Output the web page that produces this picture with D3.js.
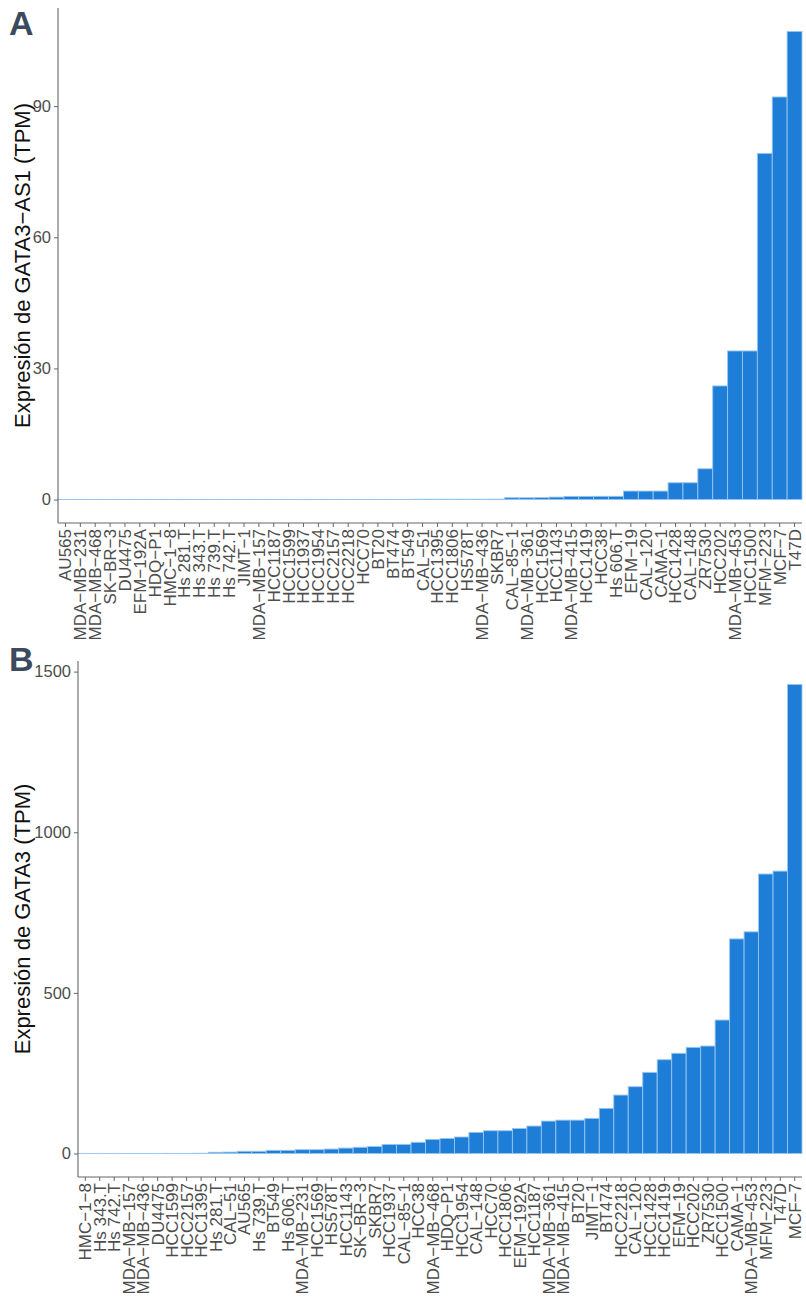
<!DOCTYPE html>
<html>
<head>
<meta charset="utf-8">
<script src="https://cdn.jsdelivr.net/npm/d3@7"></script>
<style>
  html, body { margin: 0; padding: 0; background: #fff; }
  svg { display: block; font-family: "Liberation Sans", Arial, sans-serif; }
</style>
</head>
<body>
<svg id="chart" width="806" height="1299"></svg>
<script>
// ---- Data ----
const catsA = ["AU565","MDA-MB-231","MDA-MB-468","SK-BR-3","DU4475","EFM-192A","HDQ-P1","HMC-1-8","Hs 281.T","Hs 343.T","Hs 739.T","Hs 742.T","JIMT-1","MDA-MB-157","HCC1187","HCC1599","HCC1937","HCC1954","HCC2157","HCC2218","HCC70","BT20","BT474","BT549","CAL-51","HCC1395","HCC1806","HS578T","MDA-MB-436","SKBR7","CAL-85-1","MDA-MB-361","HCC1569","HCC1143","MDA-MB-415","HCC1419","HCC38","Hs 606.T","EFM-19","CAL-120","CAMA-1","HCC1428","CAL-148","ZR7530","HCC202","MDA-MB-453","HCC1500","MFM-223","MCF-7","T47D"];
const valsA = [0.05,0.05,0.05,0.05,0.05,0.05,0.05,0.05,0.05,0.05,0.05,0.05,0.05,0.05,0.05,0.05,0.05,0.05,0.05,0.05,0.05,0.05,0.05,0.05,0.08,0.08,0.08,0.08,0.08,0.1,0.42,0.42,0.45,0.57,0.73,0.73,0.75,0.75,1.95,1.95,1.95,3.85,3.85,7.05,26.0,34.0,34.0,79.2,92.1,107.1];
const ticksA = [0, 30, 60, 90];

const catsB = ["HMC-1-8","Hs 343.T","Hs 742.T","MDA-MB-157","MDA-MB-436","DU4475","HCC1599","HCC2157","HCC1395","Hs 281.T","CAL-51","AU565","Hs 739.T","BT549","Hs 606.T","MDA-MB-231","HCC1569","HS578T","HCC1143","SK-BR-3","SKBR7","HCC1937","CAL-85-1","HCC38","MDA-MB-468","HDQ-P1","HCC1954","CAL-148","HCC70","HCC1806","EFM-192A","HCC1187","MDA-MB-361","MDA-MB-415","BT20","JIMT-1","BT474","HCC2218","CAL-120","HCC1428","HCC1419","EFM-19","HCC202","ZR7530","HCC1500","CAMA-1","MDA-MB-453","MFM-223","T47D","MCF-7"];
const valsB = [0.1,0.1,0.1,0.2,0.3,0.4,0.5,0.6,1.0,4,4.5,7,7,10,10,12,12,14,17,19.5,22,28.5,28.5,35,44,47,51.5,66,71,71,78,85.6,101,104,104,109.5,140.6,182,208,252.6,292,312,330.5,334.6,415.5,668,690,870,879,1460];
const ticksB = [0, 500, 1000, 1500];

const titleA = "Expresión de GATA3-AS1 (TPM)";
const titleB = "Expresión de GATA3 (TPM)";

// ---- Drawing ----
const svg = d3.select("#chart");
svg.append("rect").attr("width", 806).attr("height", 1299).attr("fill", "#fff");

const disp = s => s.replace(/-/g, "\u2212");
const FONT = "'Liberation Sans', Arial, sans-serif";

function panel(cfg) {
  const { cats, vals, ticks, x0, x1, yTop, yBot, title, letter, letterY } = cfg;
  const g = svg.append("g");
  const maxV = d3.max(vals);
  const y = d3.scaleLinear().domain([-0.05 * maxV, 1.05 * maxV]).range([yBot, yTop]);
  const x = d3.scaleBand().domain(cats).range([x0, x1]).padding(0);

  // bars
  g.selectAll("rect.bar").data(cats).join("rect")
    .attr("class", "bar")
    .attr("x", d => x(d))
    .attr("width", x.bandwidth())
    .attr("y", (d, i) => y(vals[i]))
    .attr("height", (d, i) => y(0) - y(vals[i]))
    .attr("fill", "#1e7dd7")
    .attr("stroke", "#98c6f0")
    .attr("stroke-width", 0.9);

  // y axis
  const ya = d3.axisLeft(y).tickValues(ticks).tickSize(4).tickPadding(3).tickFormat(d3.format("d"));
  const yg = g.append("g").attr("transform", `translate(${x0},0)`).call(ya);
  yg.select(".domain").remove();
  yg.selectAll(".tick line").attr("stroke", "#666").attr("stroke-width", 1);
  yg.selectAll(".tick text").attr("fill", "#4d4d4d").style("font-size", "16.5px")
    .style("font-family", FONT);

  // x axis
  const xa = d3.axisBottom(x).tickSize(4).tickPadding(3).tickFormat(disp);
  const xg = g.append("g").attr("transform", `translate(0,${yBot})`).call(xa);
  xg.select(".domain").remove();
  xg.selectAll(".tick line").attr("stroke", "#666").attr("stroke-width", 1);
  xg.selectAll(".tick text")
    .attr("fill", "#4d4d4d")
    .style("font-size", "17px")
    .style("font-family", FONT)
    .attr("text-anchor", "end")
    .attr("transform", "rotate(-90)")
    .attr("x", -6)
    .attr("y", 0)
    .attr("dy", "0.35em");

  // axis lines
  g.append("line").attr("x1", x0).attr("x2", x0).attr("y1", yTop).attr("y2", yBot)
    .attr("stroke", "#666").attr("stroke-width", 1.1);
  g.append("line").attr("x1", x0).attr("x2", x1).attr("y1", yBot).attr("y2", yBot)
    .attr("stroke", "#666").attr("stroke-width", 1.1);

  // axis title
  g.append("text")
    .attr("transform", `translate(${cfg.titleX},${(yTop + yBot) / 2}) rotate(-90)`)
    .attr("text-anchor", "middle")
    .attr("dy", "0.35em")
    .attr("fill", "#111")
    .style("font-size", "22px")
    .style("font-family", FONT)
    .text(disp(title));

  // panel letter
  svg.append("text")
    .attr("x", 9).attr("y", letterY)
    .attr("fill", "#3c4a5e")
    .style("font-size", "34px")
    .style("font-weight", "bold")
    .style("font-family", FONT)
    .text(letter);
}

panel({ cats: catsA, vals: valsA, ticks: ticksA, x0: 58, x1: 802, yTop: 8, yBot: 523,
        title: titleA, letter: "A", letterY: 35, titleX: 22 });
panel({ cats: catsB, vals: valsB, ticks: ticksB, x0: 78, x1: 802, yTop: 661, yBot: 1177,
        title: titleB, letter: "B", letterY: 671, titleX: 22 });
</script>
</body>
</html>
